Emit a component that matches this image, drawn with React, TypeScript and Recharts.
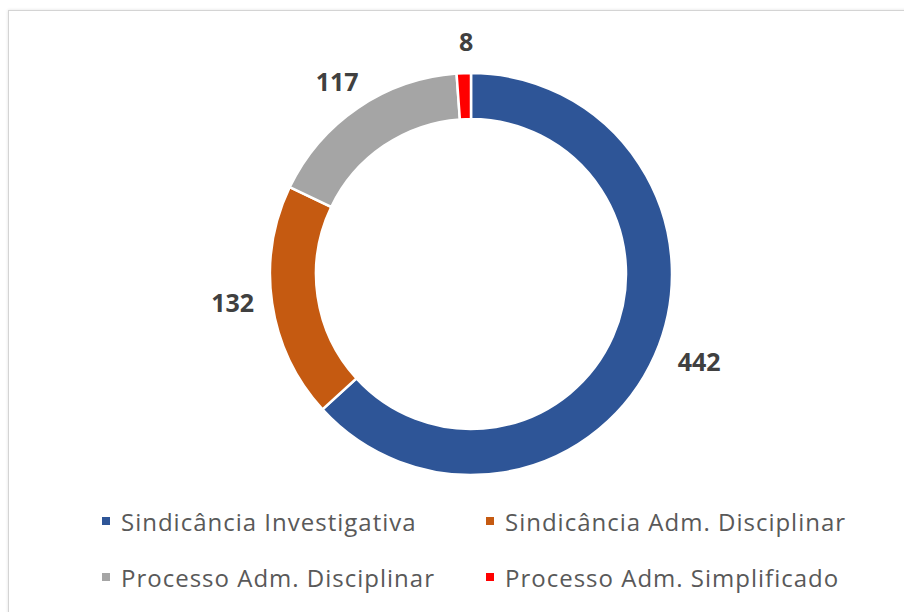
import React from "react";
import { PieChart, Pie, Cell, Legend } from "recharts";

const categories = [
  "Sindicância Investigativa",
  "Sindicância Adm. Disciplinar",
  "Processo Adm. Disciplinar",
  "Processo Adm. Simplificado",
];
const values = [442, 132, 117, 8];
const colors = ["#2E5597", "#C55A11", "#A5A5A5", "#FF0000"];

const data = categories.map((name, i) => ({ name, value: values[i] }));

const renderLabel = (props: any) => {
  const { cx, cy, midAngle, outerRadius, value } = props;
  const rad = (-midAngle * Math.PI) / 180;
  const c = Math.cos(rad);
  const s = Math.sin(rad);
  const r = outerRadius + 17;
  const x = cx + r * c + 27 * c + 4;
  const y = cy + r * s + 10 * s - 5;
  return (
    <text
      x={x}
      y={y}
      textAnchor="middle"
      dominantBaseline="central"
      fill="#404040"
      fontFamily="'Open Sans', sans-serif"
      fontWeight={700}
      fontSize={25}
    >
      {value}
    </text>
  );
};

const renderLegend = () => {
  return (
    <div style={{ position: "relative", width: 904, height: 100 }}>
      {categories.map((name, i) => {
        const col = i % 2;
        const row = Math.floor(i / 2);
        return (
          <div
            key={name}
            style={{
              position: "absolute",
              left: col === 0 ? 102 : 486,
              top: row * 56,
              display: "flex",
              alignItems: "center",
              height: 30,
            }}
          >
            <span
              style={{
                display: "inline-block",
                width: 8,
                height: 8,
                background: colors[i],
                marginRight: 11,
              }}
            />
            <span
              style={{
                fontFamily: "'Open Sans', sans-serif",
                fontSize: 24,
                letterSpacing: 1,
                color: "#595959",
                whiteSpace: "nowrap",
              }}
            >
              {name}
            </span>
          </div>
        );
      })}
    </div>
  );
};

export default function App() {
  return (
    <div
      style={{
        position: "absolute",
        left: 0,
        top: 0,
        width: 904,
        height: 612,
        background: "#ffffff",
        overflow: "hidden",
      }}
    >
      <div
        style={{
          position: "absolute",
          left: 8,
          top: 10,
          width: 920,
          height: 640,
          borderTop: "1px solid #d4d4d4",
          borderLeft: "1px solid #d4d4d4",
          boxShadow: "0 0 3px rgba(0,0,0,0.12)",
        }}
      />
      <div style={{ position: "absolute", left: 0, top: 0 }}>
        <PieChart width={904} height={612} margin={{ top: 0, right: 0, bottom: 0, left: 0 }}>
          <Pie
            data={data}
            dataKey="value"
            nameKey="name"
            cx={471}
            cy={274}
            innerRadius={155}
            outerRadius={201}
            startAngle={90}
            endAngle={-270}
            stroke="#ffffff"
            strokeWidth={2.5}
            label={renderLabel}
            labelLine={false}
            isAnimationActive={false}
          >
            {data.map((d, i) => (
              <Cell key={d.name} fill={colors[i]} />
            ))}
          </Pie>
          <Legend
            content={renderLegend}
            wrapperStyle={{ position: "absolute", left: 0, top: 506, width: 904 }}
          />
        </PieChart>
      </div>
    </div>
  );
}
